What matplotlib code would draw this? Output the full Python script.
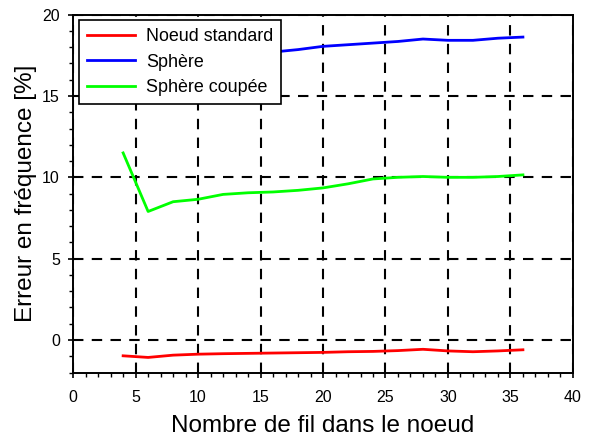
import matplotlib
matplotlib.use("Agg")
import matplotlib.pyplot as plt
from matplotlib.ticker import MultipleLocator

plt.rcParams["font.family"] = ["Liberation Sans", "DejaVu Sans"]

# nombre de fils dans le noeud
n_fils = [4, 6, 8, 10, 12, 14, 16, 18, 20, 22, 24, 26, 28, 30, 32, 34, 36]

# erreur en frequence [%]
err_standard = [-0.97, -1.07, -0.93, -0.87, -0.84, -0.82, -0.80, -0.78, -0.76,
                -0.72, -0.70, -0.65, -0.57, -0.67, -0.72, -0.67, -0.60]
err_sphere = [16.9, 17.1, 17.3, 17.4, 17.5, 17.6, 17.7, 17.85, 18.05,
              18.15, 18.25, 18.35, 18.5, 18.42, 18.42, 18.55, 18.62]
err_sphere_coupee = [11.5, 7.9, 8.5, 8.65, 8.95, 9.05, 9.1, 9.2, 9.35,
                     9.6, 9.9, 10.0, 10.05, 10.0, 10.0, 10.05, 10.15]

labels = ["Noeud standard", "Sph\u00e8re", "Sph\u00e8re coup\u00e9e"]
colors = ["#ff0000", "#0000ff", "#00ff00"]

fig = plt.figure(figsize=(5.9, 4.43), dpi=100)
ax = fig.add_axes([0.124, 0.159, 0.847, 0.808])

for y, lab, c in zip([err_standard, err_sphere, err_sphere_coupee], labels, colors):
    ax.plot(n_fils, y, color=c, linewidth=2, label=lab)

ax.set_xlim(0, 40)
ax.set_ylim(-2, 20)
ax.xaxis.set_major_locator(MultipleLocator(5))
ax.yaxis.set_major_locator(MultipleLocator(5))
ax.xaxis.set_minor_locator(MultipleLocator(1))
ax.yaxis.set_minor_locator(MultipleLocator(1))
ax.tick_params(which="major", direction="inout", length=7, width=1.2, labelsize=11.5)
ax.tick_params(which="minor", direction="out", length=3, width=1)
ax.tick_params(axis="x", which="major", pad=9)
ax.tick_params(axis="y", which="major", pad=6)

ax.grid(True, which="major", color="black", linestyle=(0, (5, 4)), linewidth=1.5)
for s in ax.spines.values():
    s.set_linewidth(1.4)

ax.set_xlabel("Nombre de fil dans le noeud", fontsize=17.5, labelpad=7)
ax.set_ylabel("Erreur en fr\u00e9quence [%]", fontsize=17.5, labelpad=4)

leg = ax.legend(loc="upper left", fontsize=12.9, fancybox=False, framealpha=1,
                edgecolor="black", borderaxespad=0.3, handlelength=2.7,
                handletextpad=0.6, borderpad=0.45, labelspacing=0.48)
leg.get_frame().set_linewidth(1.2)

fig.savefig("out.png", dpi=100)
